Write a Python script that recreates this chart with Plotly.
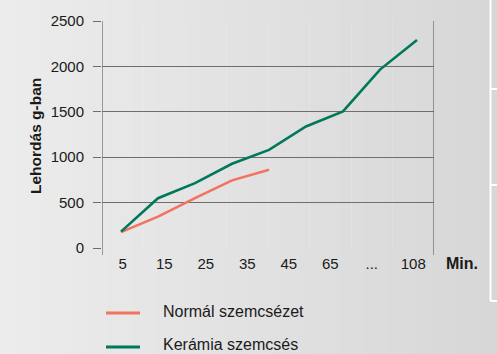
import plotly.graph_objects as go

# Category labels along the time axis (minutes)
ido_cimkek = ["5", "15", "25", "35", "45", "65", "...", "108"]

# Wear measurements (g), one value per measuring step
meres_normal = [0, 1, 2, 3, 4]
lehordas_normal = [175, 345, 550, 745, 862]

meres_keramia = [0, 1, 2, 3, 4, 5, 6, 7, 8]
lehordas_keramia = [180, 548, 715, 928, 1080, 1338, 1505, 1965, 2290]

y_tickek = [0, 500, 1000, 1500, 2000, 2500]

sorozat_nevek = ["Normál szemcsézet", "Kerámia szemcsés"]
szinek = ["#f2735f", "#00785b"]

W, H = 497, 354
L, R, T, B = 102, 63, 21, 106
pw, ph = W - L - R, H - T - B


def px_x(p):
    return (p - L) / pw


def px_y(p):
    return (H - B - p) / ph


FONT = "Liberation Sans, Arial, sans-serif"
GRID = "#6e6e6e"
TXT = "#1a1a1a"

fig = go.Figure()

fig.add_trace(go.Scatter(
    x=meres_normal, y=lehordas_normal, mode="lines",
    line=dict(color=szinek[0], width=2.6), xaxis="x2", yaxis="y",
    showlegend=False, hoverinfo="skip"))
fig.add_trace(go.Scatter(
    x=meres_keramia, y=lehordas_keramia, mode="lines",
    line=dict(color=szinek[1], width=2.6), xaxis="x2", yaxis="y",
    showlegend=False, hoverinfo="skip"))

shapes = []
# soft horizontal background gradient
n = 60
x_left, x_right = px_x(0), px_x(W)
for i in range(n):
    t = i / (n - 1)
    c = round(236 - t * 21)
    shapes.append(dict(
        type="rect", xref="paper", yref="paper", layer="below",
        x0=x_left + (x_right - x_left) * i / n,
        x1=x_left + (x_right - x_left) * (i + 1) / n + 0.002,
        y0=px_y(H), y1=px_y(0),
        fillcolor=f"rgb({c},{c},{c})", line=dict(width=0)))

# left and right frame lines, reaching slightly below the baseline
for xp in (0, len(ido_cimkek)):
    shapes.append(dict(
        type="line", xref="x", yref="paper", x0=xp, x1=xp,
        y0=px_y(255), y1=1, line=dict(color=GRID, width=1.3)))

# neighbouring table borders on the right edge
tab_x = px_x(490.5)
shapes.append(dict(type="line", xref="paper", yref="paper",
                   x0=tab_x, x1=tab_x, y0=px_y(301), y1=px_y(0),
                   line=dict(color="white", width=2)))
for yy in (89, 185, 301):
    shapes.append(dict(type="line", xref="paper", yref="paper",
                       x0=tab_x, x1=px_x(W), y0=px_y(yy), y1=px_y(yy),
                       line=dict(color="white", width=2)))

# legend swatches
leg_y = [313, 347]
leg_txt_y = [311, 344.5]
for szin, yy in zip(szinek, leg_y):
    shapes.append(dict(type="line", xref="paper", yref="paper",
                       x0=px_x(106), x1=px_x(140), y0=px_y(yy), y1=px_y(yy),
                       line=dict(color=szin, width=3)))

annotations = []
for nev, yy in zip(sorozat_nevek, leg_txt_y):
    annotations.append(dict(
        text=nev, xref="paper", yref="paper", x=px_x(161), y=px_y(yy),
        xanchor="left", yanchor="middle", showarrow=False,
        font=dict(family=FONT, size=16, color=TXT)))

annotations.append(dict(
    text="<b>Min.</b>", xref="paper", yref="paper", x=px_x(462), y=px_y(263),
    xanchor="center", yanchor="middle", showarrow=False,
    font=dict(family=FONT, size=16, color=TXT)))

annotations.append(dict(
    text="<b>Lehordás g-ban</b>", xref="paper", yref="paper",
    x=px_x(35), y=px_y(136), xanchor="center", yanchor="middle",
    textangle=-90, showarrow=False,
    font=dict(family=FONT, size=15.5, color=TXT)))

k = len(ido_cimkek)
# measuring-step axis: step 0 sits at 0.458 and step 8 at 7.59 on the label axis
lepes = (7.59 - 0.458) / 8
x2_range = [-0.458 / lepes, (k - 0.458) / lepes]

fig.update_layout(
    width=W, height=H,
    margin=dict(l=L, r=R, t=T, b=B, pad=0),
    paper_bgcolor="#e2e2e2",
    plot_bgcolor="rgba(0,0,0,0)",
    font=dict(family=FONT, size=15, color=TXT),
    showlegend=False,
    xaxis=dict(
        range=[0, k], tickvals=[i + 0.5 for i in range(k)], ticktext=ido_cimkek,
        showgrid=False, zeroline=False, showline=False, ticks="",
        ticklabelstandoff=5,
        tickfont=dict(family=FONT, size=15, color=TXT),
        minor=dict(tickvals=list(range(1, k)), showgrid=True,
                   gridcolor="rgba(255,255,255,0.15)", gridwidth=1, ticks=""),
        fixedrange=True),
    xaxis2=dict(range=x2_range, overlaying="x", visible=False, fixedrange=True),
    yaxis=dict(
        range=[0, 2500], tickvals=y_tickek, showgrid=True, gridcolor=GRID,
        gridwidth=1.3, zeroline=False, showline=False,
        ticks="outside", ticklen=8, tickcolor=GRID, tickwidth=1.3,
        ticklabelstandoff=6,
        tickfont=dict(family=FONT, size=15, color=TXT),
        fixedrange=True),
    shapes=shapes,
    annotations=annotations,
)

fig.write_html("out.html")
